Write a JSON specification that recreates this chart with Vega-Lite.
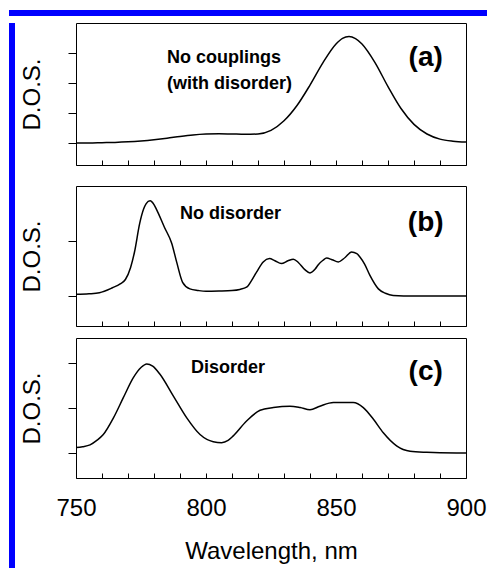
{
  "$schema": "https://vega.github.io/schema/vega-lite/v6.json",
  "padding": {"left": 9, "top": 10, "right": 0, "bottom": 0},
  "background": "white",
  "config": {
    "font": "Liberation Sans",
    "view": {"stroke": "black", "strokeWidth": 1},
    "axis": {"grid": false, "domain": false, "tickColor": "black", "labelColor": "black", "titleColor": "black", "titleFontWeight": "normal", "tickWidth": 1}
  },
  "datasets": {
    "curveA": [
      {"wl": 750, "v": 0.0}, {"wl": 755, "v": 0.0}, {"wl": 760, "v": 0.01}, {"wl": 765, "v": 0.02},
      {"wl": 770, "v": 0.04}, {"wl": 775, "v": 0.07}, {"wl": 780, "v": 0.11}, {"wl": 785, "v": 0.16},
      {"wl": 790, "v": 0.22}, {"wl": 795, "v": 0.27}, {"wl": 800, "v": 0.3}, {"wl": 805, "v": 0.31},
      {"wl": 810, "v": 0.3}, {"wl": 815, "v": 0.29}, {"wl": 820, "v": 0.3}, {"wl": 825, "v": 0.42},
      {"wl": 830, "v": 0.74}, {"wl": 835, "v": 1.25}, {"wl": 840, "v": 1.93}, {"wl": 845, "v": 2.68},
      {"wl": 850, "v": 3.3}, {"wl": 852.5, "v": 3.49}, {"wl": 855, "v": 3.55}, {"wl": 857.5, "v": 3.48},
      {"wl": 860, "v": 3.3}, {"wl": 865, "v": 2.68}, {"wl": 870, "v": 1.88}, {"wl": 875, "v": 1.15},
      {"wl": 880, "v": 0.62}, {"wl": 885, "v": 0.3}, {"wl": 890, "v": 0.13}, {"wl": 895, "v": 0.06},
      {"wl": 900, "v": 0.03}
    ],
    "curveB": [
      {"wl": 750, "v": 0.03}, {"wl": 755, "v": 0.04}, {"wl": 759, "v": 0.06}, {"wl": 764, "v": 0.15},
      {"wl": 767, "v": 0.22}, {"wl": 769, "v": 0.3}, {"wl": 771, "v": 0.52}, {"wl": 772.5, "v": 0.8},
      {"wl": 774.5, "v": 1.32}, {"wl": 776, "v": 1.58}, {"wl": 777, "v": 1.68}, {"wl": 778.5, "v": 1.73},
      {"wl": 780, "v": 1.66}, {"wl": 781, "v": 1.57}, {"wl": 784, "v": 1.25}, {"wl": 786.8, "v": 0.96},
      {"wl": 788.7, "v": 0.62}, {"wl": 791, "v": 0.25}, {"wl": 793.8, "v": 0.13}, {"wl": 797, "v": 0.1},
      {"wl": 800, "v": 0.085}, {"wl": 805, "v": 0.09}, {"wl": 810, "v": 0.1}, {"wl": 813, "v": 0.12},
      {"wl": 815.6, "v": 0.16}, {"wl": 817.5, "v": 0.28}, {"wl": 819.5, "v": 0.44}, {"wl": 822, "v": 0.62},
      {"wl": 824.4, "v": 0.68}, {"wl": 826.5, "v": 0.64}, {"wl": 829, "v": 0.59}, {"wl": 831.5, "v": 0.64},
      {"wl": 833.6, "v": 0.67}, {"wl": 835.5, "v": 0.61}, {"wl": 838, "v": 0.48}, {"wl": 840, "v": 0.42},
      {"wl": 842, "v": 0.49}, {"wl": 843.2, "v": 0.57}, {"wl": 845, "v": 0.65}, {"wl": 846.4, "v": 0.69},
      {"wl": 848.5, "v": 0.66}, {"wl": 850.9, "v": 0.62}, {"wl": 853.5, "v": 0.7}, {"wl": 856, "v": 0.8},
      {"wl": 858, "v": 0.77}, {"wl": 859.2, "v": 0.71}, {"wl": 861, "v": 0.58}, {"wl": 863, "v": 0.38},
      {"wl": 866.3, "v": 0.13}, {"wl": 869, "v": 0.05}, {"wl": 872, "v": 0.01}, {"wl": 880, "v": 0.0},
      {"wl": 890, "v": 0.0}, {"wl": 900, "v": 0.0}
    ],
    "curveC": [
      {"wl": 750, "v": 0.12}, {"wl": 752.5, "v": 0.14}, {"wl": 755.4, "v": 0.18}, {"wl": 758, "v": 0.28},
      {"wl": 760.5, "v": 0.41}, {"wl": 764.4, "v": 0.78}, {"wl": 768.2, "v": 1.23}, {"wl": 772, "v": 1.67},
      {"wl": 775, "v": 1.9}, {"wl": 777.2, "v": 1.98}, {"wl": 779.5, "v": 1.93}, {"wl": 782.3, "v": 1.75},
      {"wl": 787.4, "v": 1.27}, {"wl": 792.6, "v": 0.78}, {"wl": 797.7, "v": 0.41}, {"wl": 802.8, "v": 0.25},
      {"wl": 806, "v": 0.23}, {"wl": 808.5, "v": 0.28}, {"wl": 810.5, "v": 0.38}, {"wl": 815.6, "v": 0.71},
      {"wl": 820.8, "v": 0.95}, {"wl": 825.9, "v": 1.01}, {"wl": 832.3, "v": 1.04}, {"wl": 836.2, "v": 1.01},
      {"wl": 840, "v": 0.96}, {"wl": 843.8, "v": 1.04}, {"wl": 849, "v": 1.12}, {"wl": 856.6, "v": 1.12},
      {"wl": 860.5, "v": 1.01}, {"wl": 864.4, "v": 0.75}, {"wl": 868.2, "v": 0.45}, {"wl": 873.3, "v": 0.16},
      {"wl": 878.5, "v": 0.04}, {"wl": 884.9, "v": 0.015}, {"wl": 890, "v": 0.005}, {"wl": 900, "v": 0.0}
    ],
    "notesA": [{"wl": 785, "v": 2.82, "label": "No couplings"}, {"wl": 785, "v": 1.97, "label": "(with disorder)"}],
    "tagA": [{"wl": 884.5, "v": 2.85, "label": "(a)"}],
    "notesB": [{"wl": 790, "v": 1.49, "label": "No disorder"}],
    "tagB": [{"wl": 884.5, "v": 1.32, "label": "(b)"}],
    "notesC": [{"wl": 794.2, "v": 1.89, "label": "Disorder"}],
    "tagC": [{"wl": 884.5, "v": 1.8, "label": "(c)"}],
    "blank": [{"k": 1}]
  },
  "spacing": 0,
  "vconcat": [
    {
      "data": {"name": "blank"},
      "mark": {"type": "point", "opacity": 0},
      "width": 478, "height": 6,
      "view": {"fill": "#0000ff", "stroke": null}
    },
    {
      "spacing": 5,
      "hconcat": [
        {
          "data": {"name": "blank"},
          "mark": {"type": "point", "opacity": 0},
          "width": 6, "height": 548,
          "view": {"fill": "#0000ff", "stroke": null}
        },
        {
          "spacing": 10,
          "vconcat": [
            {
              "width": 390, "height": 142,
              "title": {"text": " ", "fontSize": 1, "offset": 5},
              "encoding": {
                "x": {"field": "wl", "type": "quantitative",
                  "scale": {"domain": [750, 900], "nice": false, "zero": false},
                  "axis": {"title": null, "labels": false, "tickSize": -5, "values": [750, 760, 770, 780, 790, 800, 810, 820, 830, 840, 850, 860, 870, 880, 890, 900], "minExtent": 9, "maxExtent": 9}},
                "y": {"field": "v", "type": "quantitative",
                  "scale": {"domain": [-0.7333, 4], "nice": false, "zero": false},
                  "axis": {"title": "D.O.S.", "titleFontSize": 24, "titlePadding": 23, "labels": false, "tickSize": 8, "values": [0, 1, 2, 3]}}
              },
              "layer": [
                {"data": {"name": "curveA"}, "mark": {"type": "line", "color": "black", "strokeWidth": 1.5, "interpolate": "monotone"}},
                {"data": {"name": "notesA"}, "mark": {"type": "text", "align": "left", "baseline": "middle", "fontSize": 18, "fontWeight": "bold", "color": "black"}, "encoding": {"text": {"field": "label"}}},
                {"data": {"name": "tagA"}, "mark": {"type": "text", "align": "center", "baseline": "middle", "fontSize": 28, "fontWeight": "bold", "color": "black"}, "encoding": {"text": {"field": "label"}}}
              ]
            },
            {
              "width": 390, "height": 140,
              "encoding": {
                "x": {"field": "wl", "type": "quantitative",
                  "scale": {"domain": [750, 900], "nice": false, "zero": false},
                  "axis": {"title": null, "labels": false, "tickSize": -5, "values": [750, 760, 770, 780, 790, 800, 810, 820, 830, 840, 850, 860, 870, 880, 890, 900]}},
                "y": {"field": "v", "type": "quantitative",
                  "scale": {"domain": [-0.545, 2], "nice": false, "zero": false},
                  "axis": {"title": "D.O.S.", "titleFontSize": 24, "titlePadding": 23, "labels": false, "tickSize": 8, "values": [0, 1]}}
              },
              "layer": [
                {"data": {"name": "curveB"}, "mark": {"type": "line", "color": "black", "strokeWidth": 1.5, "interpolate": "monotone"}},
                {"data": {"name": "notesB"}, "mark": {"type": "text", "align": "left", "baseline": "middle", "fontSize": 18, "fontWeight": "bold", "color": "black"}, "encoding": {"text": {"field": "label"}}},
                {"data": {"name": "tagB"}, "mark": {"type": "text", "align": "center", "baseline": "middle", "fontSize": 28, "fontWeight": "bold", "color": "black"}, "encoding": {"text": {"field": "label"}}}
              ]
            },
            {
              "width": 390, "height": 140,
              "encoding": {
                "x": {"field": "wl", "type": "quantitative",
                  "scale": {"domain": [750, 900], "nice": false, "zero": false},
                  "axis": {"title": "Wavelength,  nm", "titleFontSize": 24, "titlePadding": 19, "labelFontSize": 24, "labelPadding": 23, "labelFlush": false, "labelOverlap": false, "tickSize": -5, "values": [750, 760, 770, 780, 790, 800, 810, 820, 830, 840, 850, 860, 870, 880, 890, 900], "labelExpr": "datum.value % 50 === 0 ? datum.label : ''"}},
                "y": {"field": "v", "type": "quantitative",
                  "scale": {"domain": [-0.5556, 2.5556], "nice": false, "zero": false},
                  "axis": {"title": "D.O.S.", "titleFontSize": 24, "titlePadding": 23, "labels": false, "tickSize": 8, "values": [0, 1, 2]}}
              },
              "layer": [
                {"data": {"name": "curveC"}, "mark": {"type": "line", "color": "black", "strokeWidth": 1.5, "interpolate": "monotone"}},
                {"data": {"name": "notesC"}, "mark": {"type": "text", "align": "left", "baseline": "middle", "fontSize": 18, "fontWeight": "bold", "color": "black"}, "encoding": {"text": {"field": "label"}}},
                {"data": {"name": "tagC"}, "mark": {"type": "text", "align": "center", "baseline": "middle", "fontSize": 28, "fontWeight": "bold", "color": "black"}, "encoding": {"text": {"field": "label"}}}
              ]
            }
          ]
        }
      ]
    },
    {
      "data": {"name": "blank"},
      "mark": {"type": "point", "opacity": 0},
      "width": 478, "height": 2,
      "view": {"fill": "#5060e8", "stroke": null}
    }
  ]
}
